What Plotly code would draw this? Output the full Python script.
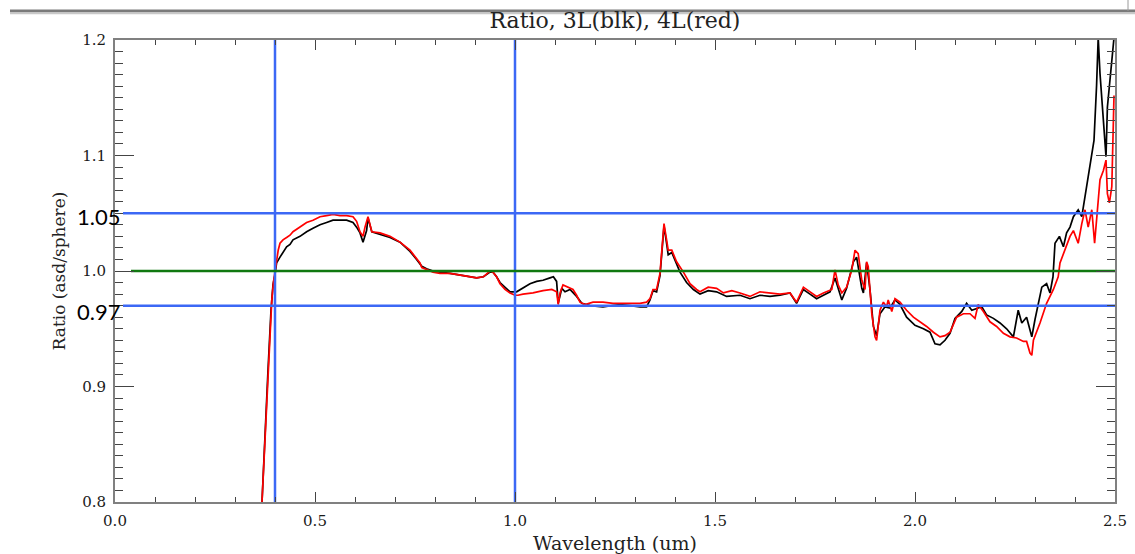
import plotly.graph_objects as go

# Wavelength (um) and ratio for the 3L measurement (black)
wl_3l = [0.3675, 0.375, 0.3825, 0.39, 0.395, 0.40, 0.404, 0.4125, 0.42, 0.429,
         0.4375, 0.445, 0.4625, 0.479, 0.495, 0.5125, 0.529, 0.545, 0.5625, 0.579,
         0.595, 0.604, 0.6125, 0.62, 0.629, 0.6325, 0.642, 0.6625, 0.6875, 0.7125,
         0.7375, 0.754, 0.767, 0.779, 0.795, 0.8125, 0.8375, 0.871, 0.904, 0.921,
         0.9375, 0.945, 0.954, 0.9625, 0.975, 0.9875, 1.004, 1.02, 1.0375, 1.054,
         1.07, 1.0875, 1.096, 1.104, 1.108, 1.117, 1.125, 1.1375, 1.154, 1.167,
         1.1875, 1.22, 1.2625, 1.2875, 1.3125, 1.329, 1.3375, 1.345, 1.354, 1.3625,
         1.367, 1.3725, 1.379, 1.383, 1.392, 1.404, 1.4125, 1.429, 1.446, 1.4625,
         1.483, 1.504, 1.529, 1.5625, 1.5875, 1.6125, 1.6375, 1.6625, 1.6875, 1.704,
         1.721, 1.7375, 1.754, 1.771, 1.7875, 1.80, 1.817, 1.829, 1.846, 1.854,
         1.867, 1.871, 1.879, 1.8875, 1.896, 1.904, 1.9125, 1.925, 1.9375, 1.95,
         1.9625, 1.979, 2.00, 2.021, 2.0375, 2.05, 2.0625, 2.075, 2.0875, 2.10,
         2.117, 2.129, 2.142, 2.167, 2.179, 2.196, 2.2125, 2.229, 2.246, 2.258,
         2.267, 2.279, 2.292, 2.30, 2.308, 2.317, 2.329, 2.3375, 2.345, 2.35,
         2.361, 2.371, 2.379, 2.3875, 2.396, 2.408, 2.417, 2.425, 2.433, 2.442,
         2.4475, 2.454, 2.458, 2.4625, 2.471, 2.4775, 2.481, 2.486, 2.492, 2.4975]
ratio_3l = [0.800, 0.862, 0.914, 0.966, 0.988, 0.997, 1.007, 1.012, 1.016, 1.021,
            1.023, 1.027, 1.030, 1.034, 1.037, 1.040, 1.042, 1.044, 1.044, 1.044,
            1.042, 1.038, 1.033, 1.025, 1.035, 1.046, 1.034, 1.032, 1.029, 1.025,
            1.017, 1.010, 1.004, 1.002, 1.000, 0.999, 0.998, 0.996, 0.994, 0.995,
            0.999, 0.999, 0.995, 0.990, 0.986, 0.982, 0.982, 0.985, 0.989, 0.991,
            0.992, 0.994, 0.995, 0.991, 0.972, 0.985, 0.982, 0.984, 0.978, 0.972,
            0.970, 0.969, 0.971, 0.970, 0.969, 0.969, 0.975, 0.983, 0.982, 0.996,
            1.014, 1.039, 1.024, 1.014, 1.016, 1.005, 0.999, 0.990, 0.984, 0.980,
            0.983, 0.982, 0.978, 0.979, 0.976, 0.979, 0.978, 0.979, 0.981, 0.972,
            0.984, 0.980, 0.976, 0.979, 0.982, 0.994, 0.975, 0.985, 1.008, 1.012,
            0.985, 0.981, 1.007, 0.984, 0.952, 0.944, 0.963, 0.969, 0.968, 0.975,
            0.971, 0.960, 0.953, 0.950, 0.947, 0.937, 0.936, 0.940, 0.946, 0.959,
            0.965, 0.972, 0.966, 0.969, 0.962, 0.959, 0.955, 0.950, 0.943, 0.966,
            0.955, 0.960, 0.943, 0.958, 0.972, 0.986, 0.989, 0.981, 0.995, 1.024,
            1.030, 1.021, 1.033, 1.038, 1.047, 1.053, 1.047, 1.064, 1.082, 1.099,
            1.113, 1.161, 1.202, 1.171, 1.131, 1.099, 1.142, 1.160, 1.180, 1.202]

# Wavelength (um) and ratio for the 4L measurement (red)
wl_4l = [0.3675, 0.3775, 0.385, 0.392, 0.396, 0.40, 0.404, 0.408, 0.4125, 0.42,
         0.429, 0.4375, 0.445, 0.4625, 0.479, 0.495, 0.5125, 0.529, 0.545, 0.5625,
         0.579, 0.595, 0.604, 0.6125, 0.62, 0.625, 0.6325, 0.642, 0.6625, 0.6875,
         0.7125, 0.7375, 0.754, 0.7625, 0.767, 0.779, 0.795, 0.8125, 0.8375, 0.871,
         0.904, 0.921, 0.9375, 0.945, 0.954, 0.9625, 0.975, 0.9875, 1.000, 1.0075,
         1.02, 1.045, 1.07, 1.092, 1.104, 1.108, 1.1125, 1.12, 1.1325, 1.145,
         1.154, 1.1625, 1.175, 1.195, 1.22, 1.245, 1.279, 1.3125, 1.329, 1.3375,
         1.345, 1.354, 1.3625, 1.367, 1.3725, 1.379, 1.383, 1.392, 1.404, 1.421,
         1.4375, 1.454, 1.4625, 1.483, 1.504, 1.521, 1.542, 1.5625, 1.5875, 1.6125,
         1.6375, 1.6625, 1.6875, 1.704, 1.721, 1.7375, 1.754, 1.771, 1.792, 1.80,
         1.808, 1.817, 1.829, 1.842, 1.85, 1.858, 1.867, 1.875, 1.879, 1.883,
         1.892, 1.90, 1.904, 1.9125, 1.921, 1.929, 1.933, 1.942, 1.95, 1.9625,
         1.979, 1.996, 2.0125, 2.029, 2.046, 2.0625, 2.075, 2.0875, 2.104, 2.121,
         2.1375, 2.15, 2.158, 2.171, 2.1875, 2.204, 2.221, 2.2375, 2.254, 2.271,
         2.279, 2.2875, 2.292, 2.296, 2.3125, 2.329, 2.346, 2.358, 2.3625, 2.375,
         2.3875, 2.396, 2.408, 2.417, 2.425, 2.433, 2.442, 2.449, 2.454, 2.4625,
         2.471, 2.4775, 2.481, 2.486, 2.492, 2.496, 2.4975]
ratio_4l = [0.800, 0.871, 0.932, 0.975, 0.990, 0.999, 1.012, 1.018, 1.024, 1.027,
            1.029, 1.031, 1.034, 1.038, 1.042, 1.044, 1.047, 1.048, 1.049, 1.048,
            1.048, 1.047, 1.043, 1.034, 1.030, 1.038, 1.047, 1.034, 1.033, 1.030,
            1.025, 1.018, 1.011, 1.007, 1.003, 1.001, 0.999, 0.998, 0.998, 0.996,
            0.994, 0.995, 1.000, 0.999, 0.995, 0.989, 0.984, 0.981, 0.979, 0.979,
            0.980, 0.981, 0.983, 0.984, 0.982, 0.971, 0.981, 0.988, 0.986, 0.984,
            0.979, 0.973, 0.971, 0.973, 0.973, 0.972, 0.972, 0.972, 0.973, 0.976,
            0.984, 0.984, 0.998, 1.015, 1.041, 1.027, 1.018, 1.018, 1.008, 0.999,
            0.989, 0.984, 0.982, 0.986, 0.985, 0.981, 0.983, 0.981, 0.978, 0.982,
            0.981, 0.980, 0.981, 0.973, 0.986, 0.982, 0.978, 0.981, 0.984, 1.001,
            0.988, 0.981, 0.986, 1.001, 1.018, 1.015, 0.992, 0.984, 1.008, 1.004,
            0.963, 0.943, 0.940, 0.966, 0.973, 0.969, 0.975, 0.965, 0.976, 0.973,
            0.966, 0.960, 0.956, 0.952, 0.947, 0.943, 0.944, 0.947, 0.960, 0.963,
            0.963, 0.959, 0.971, 0.965, 0.956, 0.952, 0.946, 0.943, 0.942, 0.939,
            0.939, 0.929, 0.927, 0.940, 0.955, 0.972, 0.984, 0.995, 1.007, 1.018,
            1.030, 1.035, 1.024, 1.041, 1.053, 1.038, 1.053, 1.024, 1.047, 1.079,
            1.087, 1.096, 1.067, 1.059, 1.073, 1.151, 1.152]

# Reference markers
wl_markers = [0.4, 1.0]          # vertical guide lines (um)
ratio_bounds = [1.05, 0.97]      # horizontal tolerance lines
ratio_unity = 1.0                # unity ratio line
unity_start = 0.04
bound_start = 0.02
x_range = [0.0, 2.5]
y_range = [0.8, 1.2]

BLUE = "rgb(60,104,245)"
GREEN = "rgb(16,120,16)"
SERIF = "DejaVu Serif"

fig = go.Figure()

fig.add_trace(go.Scatter(x=wl_3l, y=ratio_3l, mode="lines",
                         line=dict(color="black", width=1.7), showlegend=False))
fig.add_trace(go.Scatter(x=wl_4l, y=ratio_4l, mode="lines",
                         line=dict(color="red", width=1.7), showlegend=False))

for w in wl_markers:
    fig.add_trace(go.Scatter(x=[w, w], y=y_range, mode="lines",
                             line=dict(color=BLUE, width=2.5), showlegend=False))
for r in ratio_bounds:
    fig.add_trace(go.Scatter(x=[bound_start, x_range[1]], y=[r, r], mode="lines",
                             line=dict(color=BLUE, width=2.5), showlegend=False))
fig.add_trace(go.Scatter(x=[unity_start, x_range[1]], y=[ratio_unity, ratio_unity],
                         mode="lines", line=dict(color=GREEN, width=2.6),
                         showlegend=False))

# Empty trace so the mirrored tick axes (top / right) get drawn
fig.add_trace(go.Scatter(x=[None], y=[None], xaxis="x2", yaxis="y2",
                         showlegend=False, hoverinfo="skip"))

tick_font = dict(family=SERIF, size=15, color="#1a1a1a")
axis_common = dict(showgrid=False, zeroline=False, ticks="inside",
                   tickcolor="#444", tickwidth=1.3, automargin=False)

fig.update_layout(
    width=1135, height=554,
    margin=dict(l=115, r=20, t=40, b=52),
    paper_bgcolor="white", plot_bgcolor="white",
    title=dict(text="Ratio, 3L(blk), 4L(red)", x=0.5, xref="paper",
               y=0.964, yref="container", xanchor="center", yanchor="middle",
               font=dict(family=SERIF, size=22, color="#222")),
    xaxis=dict(range=x_range, dtick=0.5, tick0=0, tickformat=".1f",
               ticklen=10, minor=dict(dtick=0.1, ticklen=5, ticks="inside",
                                      tickcolor="#444"),
               showline=True, linecolor="#808080", linewidth=2, mirror=True,
               tickfont=tick_font, ticklabelstandoff=4,
               title=dict(text="Wavelength (um)", standoff=9,
                          font=dict(family=SERIF, size=19, color="#222")),
               **axis_common),
    yaxis=dict(range=y_range, dtick=0.1, tick0=0.8, tickformat=".1f",
               ticklen=19, minor=dict(dtick=0.01, ticklen=8, ticks="inside",
                                      tickcolor="#444"),
               showline=True, linecolor="#808080", linewidth=2, mirror=True,
               tickfont=tick_font, ticklabelstandoff=4,
               title=dict(text="Ratio (asd/sphere)", standoff=12,
                          font=dict(family=SERIF, size=17, color="#222")),
               **axis_common),
    xaxis2=dict(range=x_range, overlaying="x", side="top", dtick=0.5, tick0=0,
                ticklen=10, showticklabels=False,
                minor=dict(dtick=0.1, ticklen=5, ticks="inside", tickcolor="#444"),
                **axis_common),
    yaxis2=dict(range=y_range, overlaying="y", side="right", dtick=0.1, tick0=0.8,
                ticklen=19, showticklabels=False,
                minor=dict(dtick=0.01, ticklen=8, ticks="inside", tickcolor="#444"),
                **axis_common),
)

# Callout values for the tolerance lines
for r, shift in zip(ratio_bounds, [-3, -6]):
    fig.add_annotation(x=0, y=r, xref="x", yref="y", text=f"{r:.2f}",
                       showarrow=False, xanchor="right", yanchor="middle",
                       xshift=7, yshift=shift,
                       font=dict(family="Lato", size=22, color="black"))

# Slide frame rule along the top
fig.add_shape(type="line", xref="paper", yref="paper", x0=-0.105, x1=1.02,
              y0=1.063, y1=1.063, line=dict(color="#7a7a7a", width=3))
fig.add_shape(type="line", xref="paper", yref="paper", x0=-0.105, x1=1.02,
              y0=1.058, y1=1.058, line=dict(color="#c8c8c8", width=2))
fig.add_shape(type="line", xref="paper", yref="paper", x0=1.013, x1=1.013,
              y0=1.063, y1=1.09, line=dict(color="#9a9a9a", width=1))

fig.write_html("out.html")
